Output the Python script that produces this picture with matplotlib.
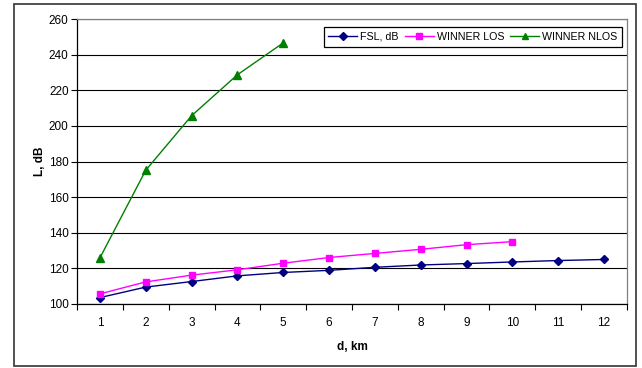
import numpy as np
import matplotlib
matplotlib.use('Agg')
import matplotlib.pyplot as plt
from matplotlib.patches import Rectangle

plt.rcParams['font.family'] = ['Liberation Sans', 'DejaVu Sans']

d_km = [1, 2, 3, 4, 5, 6, 7, 8, 9, 10, 11, 12]
fsl = [103.6, 109.5, 112.6, 115.8, 117.7, 118.9, 120.6, 121.9, 122.7, 123.6, 124.4, 125.0]
winner_los = [105.7, 112.4, 116.2, 119.2, 122.9, 126.1, 128.4, 130.7, 133.3, 135.0]
winner_nlos = [125.9, 175.1, 205.7, 228.7, 246.6]

fig = plt.figure(figsize=(6.42, 3.68), dpi=100)
W, H = 642, 368
# plot area in pixels
x0, y0, x1, y1 = 77, 19, 627, 304
ax = fig.add_axes([x0 / W, 1 - y1 / H, (x1 - x0) / W, (y1 - y0) / H])

# outer chart frame
fig.patches.append(Rectangle((14 / W, 1 - 366 / H), 622 / W, 362 / H,
                             transform=fig.transFigure, fill=False,
                             edgecolor='#333333', lw=1.2))

ax.plot(d_km, fsl, color='#000080', marker='D', ms=4.5, lw=1, label='FSL, dB')
ax.plot(d_km[:len(winner_los)], winner_los, color='#FF00FF', marker='s', ms=5, lw=1,
        label='WINNER LOS')
ax.plot(d_km[:len(winner_nlos)], winner_nlos, color='#008000', marker='^', ms=6, lw=1,
        label='WINNER NLOS')

ax.set_xlim(0.5, 12.5)
ax.set_ylim(100, 260)
ax.set_yticks(np.arange(100, 261, 20))
ax.set_xticks(d_km)
ax.set_xticks(np.arange(0.5, 12.6, 1), minor=True)
ax.tick_params(axis='x', which='major', length=0, pad=9, labelsize=8.5)
ax.tick_params(axis='x', which='minor', length=4, direction='out', width=0.8)
ax.tick_params(axis='y', length=4, direction='out', width=0.8, labelsize=8.5, pad=2)
ax.grid(axis='y', color='black', lw=0.8)
ax.set_axisbelow(True)

ax.spines['left'].set_color('black')
ax.spines['bottom'].set_color('black')
ax.spines['top'].set_color('#808080')
ax.spines['right'].set_color('#808080')
for s in ax.spines.values():
    s.set_linewidth(0.9)

ax.set_xlabel('d, km', fontweight='bold', fontsize=8.5, labelpad=9)
ax.set_ylabel('L, dB', fontweight='bold', fontsize=8.5, labelpad=2)

leg = ax.legend(loc='upper right', ncol=3, fontsize=7.7, frameon=True, fancybox=False,
                edgecolor='black', framealpha=1, handlelength=2.7, handletextpad=0.3,
                columnspacing=0.55, borderpad=0.45, borderaxespad=0,
                markerscale=0.8, bbox_to_anchor=(0.9915, 0.972))
leg.get_frame().set_linewidth(0.9)

plt.savefig('out.png', dpi=100)
